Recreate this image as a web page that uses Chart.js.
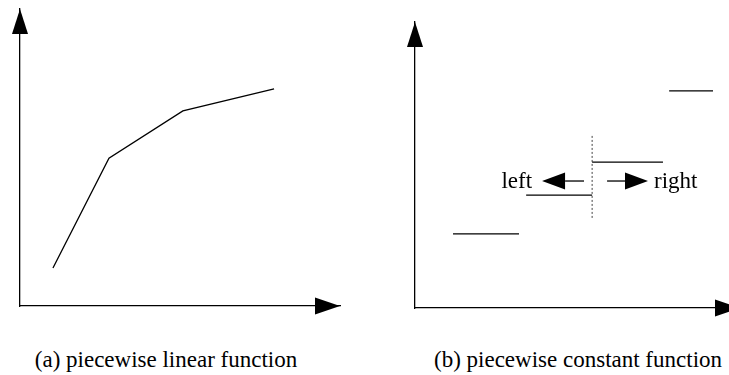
<!DOCTYPE html>
<html>
<head>
<meta charset="utf-8">
<script src="https://cdn.jsdelivr.net/npm/chart.js@4"></script>
<style>
  html, body { margin: 0; padding: 0; background: #fff; }
  body { width: 729px; height: 375px; overflow: hidden; position: relative; }
  canvas { position: absolute; top: 0; }
  #plot-a { left: 0; }
  #plot-b { left: 380px; }
  .caption {
    position: absolute; top: 348px;
    font-family: 'Liberation Serif', 'Times New Roman', serif;
    font-size: 23px;
    line-height: 23px; white-space: nowrap; color: #000;
    transform: translateX(-50%);
  }
</style>
</head>
<body>
<canvas id="plot-a" width="364" height="330"></canvas>
<canvas id="plot-b" width="380" height="330"></canvas>
<div class="caption" id="cap-a" style="left:166px"></div>
<div class="caption" id="cap-b" style="left:578px"></div>
<script>
// (a) breakpoints of the piecewise linear function
const linearX = [1.03, 2.78, 5.09, 7.94];
const linearY = [1.28, 4.98, 6.57, 7.31];

// (b) constant pieces: start, end, value
const pieceStart = [1.17, 3.42, 5.45, 7.82];
const pieceEnd = [3.2, 5.45, 7.63, 9.17];
const pieceValue = [2.59, 3.95, 5.1, 7.59];

// dashed split and the two direction arrows around it
const splitX = 5.45;
const splitRange = [3.15, 6.05];
const arrowY = 4.44;
const leftArrow = [5.2, 3.91];   // tail, tip
const rightArrow = [5.91, 7.17]; // tail, tip
const arrowLabels = ['left', 'right'];

const captions = ['(a) piecewise linear function', '(b) piecewise constant function'];

const serif = '"Liberation Serif", "Times New Roman", serif';

const axisScale = () => ({
  type: 'linear',
  min: 0,
  max: 10,
  grid: { display: false, drawTicks: false },
  ticks: { display: false },
  border: { display: true, color: '#000', width: 1.3 }
});

// filled arrowheads at the ends of both axes
const axisArrows = {
  id: 'axisArrows',
  afterDraw(chart) {
    const { ctx, chartArea: a } = chart;
    ctx.save();
    ctx.fillStyle = '#000';
    ctx.beginPath();
    ctx.moveTo(a.left, a.top);
    ctx.lineTo(a.left - 8, a.top + 25);
    ctx.lineTo(a.left + 8, a.top + 25);
    ctx.closePath();
    ctx.fill();
    ctx.beginPath();
    ctx.moveTo(a.right, a.bottom);
    ctx.lineTo(a.right - 25, a.bottom - 8.5);
    ctx.lineTo(a.right - 25, a.bottom + 8.5);
    ctx.closePath();
    ctx.fill();
    ctx.restore();
  }
};

// "left" / "right" arrows next to the split
const sideArrows = {
  id: 'sideArrows',
  afterDatasetsDraw(chart) {
    const { ctx, scales: { x, y } } = chart;
    const py = y.getPixelForValue(arrowY);
    const draw = ([tail, tip], label) => {
      const t0 = x.getPixelForValue(tail);
      const t1 = x.getPixelForValue(tip);
      const dir = Math.sign(t1 - t0);
      const head = 23;
      ctx.strokeStyle = '#000';
      ctx.lineWidth = 1.3;
      ctx.beginPath();
      ctx.moveTo(t0, py);
      ctx.lineTo(t1 - dir * head, py);
      ctx.stroke();
      ctx.fillStyle = '#000';
      ctx.beginPath();
      ctx.moveTo(t1, py);
      ctx.lineTo(t1 - dir * head, py - 8.5);
      ctx.lineTo(t1 - dir * head, py + 8.5);
      ctx.closePath();
      ctx.fill();
      ctx.font = '23px ' + serif;
      ctx.textBaseline = 'alphabetic';
      ctx.textAlign = dir < 0 ? 'right' : 'left';
      ctx.fillText(label, t1 + dir * (dir < 0 ? 10 : 6), py + 7);
    };
    ctx.save();
    draw(leftArrow, arrowLabels[0]);
    draw(rightArrow, arrowLabels[1]);
    ctx.restore();
  }
};

const baseOptions = (padding) => ({
  responsive: false,
  animation: false,
  events: [],
  layout: { padding, autoPadding: false },
  plugins: { legend: { display: false }, tooltip: { enabled: false } },
  scales: { x: axisScale(), y: axisScale() }
});

const lineStyle = { borderColor: '#000', borderWidth: 1.3, pointRadius: 0, showLine: true, fill: false, tension: 0 };

new Chart(document.getElementById('plot-a'), {
  type: 'scatter',
  data: {
    datasets: [{
      ...lineStyle,
      data: linearX.map((v, i) => ({ x: v, y: linearY[i] }))
    }]
  },
  options: baseOptions({ left: 20, top: 9, right: 24, bottom: 24 }),
  plugins: [axisArrows]
});

const pieces = pieceValue.map((v, i) => ({
  ...lineStyle,
  data: [{ x: pieceStart[i], y: v }, { x: pieceEnd[i], y: v }]
}));

new Chart(document.getElementById('plot-b'), {
  type: 'scatter',
  data: {
    datasets: [
      ...pieces,
      {
        ...lineStyle,
        borderColor: '#444',
        borderWidth: 1,
        borderDash: [2, 2],
        data: splitRange.map(v => ({ x: splitX, y: v }))
      }
    ]
  },
  options: baseOptions({ left: 35, top: 22, right: 20, bottom: 22 }),
  plugins: [axisArrows, sideArrows]
});

document.getElementById('cap-a').textContent = captions[0];
document.getElementById('cap-b').textContent = captions[1];
</script>
</body>
</html>
